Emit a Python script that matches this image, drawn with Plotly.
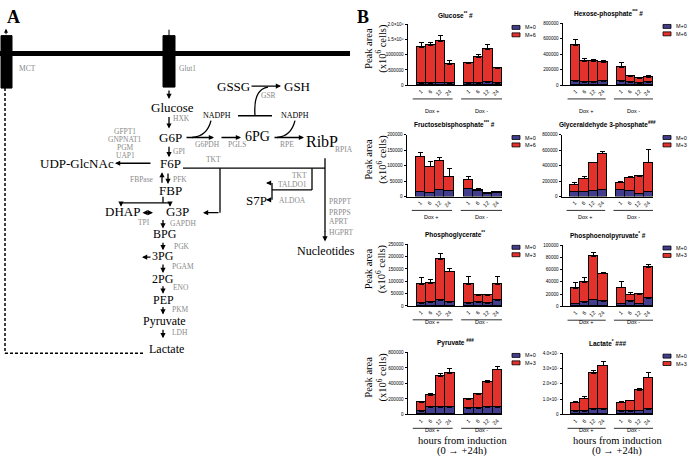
import plotly.graph_objects as go

W, H = 692, 461

# ---------------- data ----------------
hours = ["1", "6", "12", "24"]
groups = ["Dox +", "Dox -"]

glucose_m0 = [60e3, 55e3, 70e3, 50e3, 50e3, 55e3, 85e3, 45e3]
glucose_lab = [1179e3, 1245e3, 1365e3, 624e3, 667e3, 858e3, 1078e3, 488e3]
glucose_e0 = [10e3, 8e3, 12e3, 8e3, 8e3, 8e3, 15e3, 6e3]
glucose_el = [174e3, 109e3, 217e3, 130e3, 43e3, 87e3, 185e3, 22e3]

hexose_m0 = [51e3, 38e3, 30e3, 43e3, 51e3, 30e3, 26e3, 40e3]
hexose_lab = [458e3, 270e3, 278e3, 252e3, 180e3, 77e3, 55e3, 63e3]
hexose_e0 = [8e3, 5e3, 4e3, 10e3, 6e3, 4e3, 3e3, 5e3]
hexose_el = [77e3, 34e3, 30e3, 30e3, 64e3, 17e3, 9e3, 21e3]

fbp_m0 = [17e3, 13e3, 24e3, 18e3, 25e3, 20e3, 11e3, 14e3]
fbp_lab = [113e3, 85e3, 93e3, 48e3, 30e3, 4e3, 2e3, 1e3]
fbp_e0 = [3e3, 2e3, 3e3, 3e3, 8e3, 2e3, 1e3, 1e3]
fbp_el = [12e3, 14e3, 8e3, 23e3, 11e3, 2e3, 1e3, 1e3]

g3p_m0 = [70e3, 70e3, 80e3, 90e3, 85e3, 75e3, 40e3, 65e3]
g3p_lab = [85e3, 165e3, 355e3, 465e3, 95e3, 165e3, 225e3, 370e3]
g3p_e0 = [8e3, 6e3, 5e3, 6e3, 10e3, 6e3, 20e3, 30e3]
g3p_el = [20e3, 30e3, 10e3, 25e3, 15e3, 20e3, 5e3, 175e3]

pg3_m0 = [10e3, 13e3, 22e3, 13e3, 10e3, 14e3, 10e3, 22e3]
pg3_lab = [78e3, 77e3, 168e3, 125e3, 76e3, 30e3, 33e3, 64e3]
pg3_e0 = [3e3, 3e3, 3e3, 2e3, 3e3, 4e3, 2e3, 3e3]
pg3_el = [29e3, 18e3, 22e3, 12e3, 35e3, 3e3, 3e3, 33e3]

pep_m0 = [4e3, 7e3, 11e3, 8e3, 4e3, 8e3, 4e3, 13e3]
pep_lab = [25.6e3, 32e3, 71e3, 45e3, 26e3, 11e3, 16e3, 51e3]
pep_e0 = [1e3, 1e3, 1e3, 3e3, 1e3, 1e3, 1e3, 1e3]
pep_el = [9.7e3, 8.6e3, 6e3, 3e3, 11e3, 4e3, 1e3, 5e3]

pyr_m0 = [43e3, 94e3, 94e3, 89e3, 72e3, 77e3, 94e3, 94e3]
pyr_lab = [110e3, 157e3, 400e3, 439e3, 124e3, 178e3, 323e3, 480e3]
pyr_e0 = [5e3, 50e3, 8e3, 8e3, 5e3, 5e3, 8e3, 8e3]
pyr_el = [5e3, 25e3, 34e3, 60e3, 12e3, 5e3, 21e3, 42e3]

lac_m0 = [2.1e6, 2.0e6, 3.4e6, 3.4e6, 2.0e6, 2.2e6, 2.4e6, 3.2e6]
lac_lab = [5.6e6, 8.3e6, 23.3e6, 28.4e6, 5.5e6, 6.6e6, 13.5e6, 20.7e6]
lac_e0 = [0.3e6, 0.2e6, 0.5e6, 0.4e6, 0.2e6, 0.2e6, 0.3e6, 0.4e6]
lac_el = [1.0e6, 1.1e6, 2.0e6, 2.6e6, 0.8e6, 0.6e6, 0.8e6, 3.6e6]

titles = ["Glucose<sup>**</sup> #", "Hexose-phosphate<sup>***</sup> #",
          "Fructosebisphosphate<sup>***</sup> #", "Glyceraldehyde 3-phosphate<sup>###</sup>",
          "Phosphoglycerate<sup>**</sup>", "Phosphoenolpyruvate<sup>*</sup> #",
          "Pyruvate <sup>###</sup>", "Lactate<sup>*</sup> ###"]
label_names = ["M+6", "M+6", "M+6", "M+3", "M+3", "M+3", "M+3", "M+3"]

ytick_vals = [
    [0, 500000, 1000000, 1500000, 2000000],
    [0, 200000, 400000, 600000, 800000],
    [0, 50000, 100000, 150000, 200000],
    [0, 200000, 400000, 600000, 800000],
    [0, 50000, 100000, 150000, 200000, 250000],
    [0, 20000, 40000, 60000, 80000, 100000],
    [0, 200000, 400000, 600000, 800000],
    [0, 1e7, 2e7, 3e7, 4e7],
]
ytick_text = [
    ["0", "500000", "1000000", "1.5×10⁶", "2.0×10⁶"],
    ["0", "200000", "400000", "600000", "800000"],
    ["0", "50000", "100000", "150000", "200000"],
    ["0", "200000", "400000", "600000", "800000"],
    ["0", "50000", "100000", "150000", "200000", "250000"],
    ["0", "20000", "40000", "60000", "80000", "100000"],
    ["0", "200000", "400000", "600000", "800000"],
    ["0", "1.0×10⁷", "2.0×10⁷", "3.0×10⁷", "4.0×10⁷"],
]

series = [
    (glucose_m0, glucose_lab, glucose_e0, glucose_el),
    (hexose_m0, hexose_lab, hexose_e0, hexose_el),
    (fbp_m0, fbp_lab, fbp_e0, fbp_el),
    (g3p_m0, g3p_lab, g3p_e0, g3p_el),
    (pg3_m0, pg3_lab, pg3_e0, pg3_el),
    (pep_m0, pep_lab, pep_e0, pep_el),
    (pyr_m0, pyr_lab, pyr_e0, pyr_el),
    (lac_m0, lac_lab, lac_e0, lac_el),
]

# ---------------- layout helpers ----------------
def X(px):
    return px / W

def Y(py):
    return 1 - py / H

SERIF = "Liberation Serif, Times New Roman, serif"
SANS = "Liberation Sans, Arial, sans-serif"
GRAY = "#8a8a8a"
C0 = "#423d8c"
C1 = "#e3322b"

shapes = []
anns = []

def line(x0, y0, x1, y1, w=1.3, dash="solid", color="black"):
    shapes.append(dict(type="line", xref="paper", yref="paper", x0=X(x0), y0=Y(y0),
                       x1=X(x1), y1=Y(y1), line=dict(color=color, width=w, dash=dash)))

def arrow(x0, y0, x1, y1, both=False, w=1.3):
    anns.append(dict(x=X(x1), y=Y(y1), ax=x0 - x1, ay=y0 - y1, xref="paper", yref="paper",
                     axref="pixel", ayref="pixel", text="", showarrow=True, arrowhead=2,
                     arrowsize=0.8, arrowwidth=w, arrowcolor="black", standoff=0,
                     startstandoff=0, startarrowhead=2, startarrowsize=0.8,
                     arrowside="end+start" if both else "end"))

def txt(x, y, s, size=12, color="black", anchor="center", font=SERIF, angle=0):
    anns.append(dict(x=X(x), y=Y(y), text=s, showarrow=False, xref="paper", yref="paper",
                     xanchor=anchor, yanchor="middle", textangle=angle,
                     font=dict(family=font, size=size, color=color)))

def path(d):
    shapes.append(dict(type="path", xref="paper", yref="paper", path=d,
                       line=dict(color="black", width=1.3)))

def P(x, y):
    return f"{X(x):.5f},{Y(y):.5f}"

# ---------------- panel A: pathway diagram ----------------
txt(13, 15, "<b>A</b>", size=18)
line(0, 52, 350, 52, w=5)
shapes.append(dict(type="rect", xref="paper", yref="paper", x0=X(1), x1=X(12), y0=Y(34), y1=Y(87),
                   fillcolor="black", line=dict(color="black", width=1)))
shapes.append(dict(type="rect", xref="paper", yref="paper", x0=X(163), x1=X(175), y0=Y(34), y1=Y(86),
                   fillcolor="black", line=dict(color="black", width=1)))
arrow(6, 34, 6, 27, w=1)
line(169, 34, 169, 28, w=1)
txt(17, 67, "MCT", 7.5, GRAY, "left")
txt(177, 67, "Glut1", 7.5, GRAY, "left")
line(5, 87, 5, 355, w=1.5, dash="3px,2px")
line(5, 355, 143, 355, w=1.5, dash="3px,2px")

# metabolites
for s, x, y, sz in [("GSSG", 233, 85, 13), ("GSH", 297, 85, 13), ("NADPH", 217, 115, 8),
                    ("NADPH", 295, 115, 8), ("Glucose", 172, 107, 13), ("G6P", 170, 137, 13),
                    ("6PG", 257, 136, 14), ("RibP", 322, 141, 16), ("UDP-GlcNAc", 77, 163, 13),
                    ("F6P", 170, 163, 13), ("FBP", 170, 191, 13), ("DHAP", 122, 212, 13),
                    ("G3P", 177, 212, 13), ("S7P", 256, 201, 13), ("BPG", 165, 235, 12),
                    ("3PG", 163, 257, 12), ("2PG", 163, 280, 12), ("PEP", 163, 301, 12),
                    ("Pyruvate", 164, 322, 12), ("Lactate", 166, 351, 12),
                    ("Nucleotides", 326, 252, 12)]:
    txt(x, y, s, sz)

# enzymes
for s, x, y, a in [("GSR", 268, 95, "center"), ("HXK", 171, 118, "left"),
                   ("G6PDH", 207, 144, "center"), ("PGLS", 237, 144, "center"),
                   ("RPE", 287, 144, "center"), ("RPIA", 333, 149, "left"),
                   ("GFPT1", 125, 131, "center"), ("GNPNAT1", 125, 139, "center"),
                   ("PGM", 125, 147, "center"), ("UAP1", 125, 155, "center"),
                   ("GPI", 171, 151, "left"), ("TKT", 213, 159, "center"),
                   ("FBPase", 156, 179, "right"), ("PFK", 171, 179, "left"),
                   ("TKT", 309, 175, "right"), ("TALDO1", 292, 185, "center"),
                   ("ALDOA", 292, 201, "center"), ("TPI", 144, 223, "center"),
                   ("GAPDH", 168, 223.5, "left"), ("PRPPT", 327, 202, "left"),
                   ("PRPPS", 327, 213, "left"), ("APRT", 327, 222, "left"),
                   ("HGPRT", 327, 233, "left"), ("PGK", 172, 247, "left"),
                   ("PGAM", 170, 267, "left"), ("ENO", 171, 289, "left"),
                   ("PKM", 170, 311, "left"), ("LDH", 170, 334, "left")]:
    txt(x, y, s, 7.5, GRAY, a)

arrow(169, 88, 169, 98)
arrow(169, 115, 169, 128)
arrow(169, 145, 169, 157)
arrow(250, 85, 281, 85)
arrow(185, 137, 214, 137)
arrow(220, 137, 241, 137)
arrow(273, 137, 304, 137)
line(238, 115, 272, 115)
path(f"M {P(211,120)} Q {P(207,136)} {P(192,137)}")
path(f"M {P(295,120)} Q {P(291,136)} {P(277,137)}")
path(f"M {P(255,115)} Q {P(253,88)} {P(268,86)}")
arrow(152, 163, 115, 163)
line(183, 168, 325, 168)
line(325, 158, 325, 232)
arrow(325, 230, 325, 242)
line(220, 168, 220, 213)
arrow(220, 213, 203, 213)
line(312, 168, 312, 190)
line(312, 190, 272, 190)
line(272, 183, 272, 200)
arrow(272, 183, 266, 183)
arrow(272, 200, 266, 200)
arrow(162, 184, 162, 172)
arrow(168, 172, 168, 184)
line(163, 197, 163, 203)
line(121, 203, 170, 203)
arrow(121, 203, 121, 207)
arrow(170, 203, 170, 207)
arrow(141, 213, 153, 213, both=True)
arrow(163, 219, 163, 229)
arrow(163, 242, 163, 251)
arrow(152, 258, 142, 258)
arrow(163, 264, 163, 274)
arrow(163, 286, 163, 295)
arrow(163, 307, 163, 316)
arrow(163, 330, 163, 340)

# ---------------- panel B: bar charts ----------------
txt(363, 15, "<b>B</b>", size=18)

# geometry (pixel): x_left, x_right, y_top, y_base
geom = [(408, 502, 22.7, 84), (563, 653, 21.7, 84),
        (407, 502, 134, 196.7), (562, 653, 134, 196.7),
        (408, 502, 245, 307.3), (563, 653, 245.7, 307.7),
        (408, 502, 354.3, 417), (563, 653, 355, 417)]

xpos = [g * 5 + i for g in range(len(groups)) for i in range(len(hours))]
xticktext = hours * len(groups)

fig = go.Figure()
layout = {}
for k, ((m0, lab, e0, el), (xl, xr, yt, yb)) in enumerate(zip(series, geom), start=1):
    xa, ya = f"x{k}", f"y{k}"
    fig.add_trace(go.Bar(x=xpos, y=m0, name="M+0", xaxis=xa, yaxis=ya, showlegend=False,
                         marker=dict(color=C0, line=dict(color="black", width=1)),
                         error_y=dict(type="data", array=e0, arrayminus=[0] * len(e0),
                                      symmetric=False, color="black", thickness=1, width=2.5)))
    fig.add_trace(go.Bar(x=xpos, y=lab, name=label_names[k - 1], xaxis=xa, yaxis=ya,
                         showlegend=False,
                         marker=dict(color=C1, line=dict(color="black", width=1)),
                         error_y=dict(type="data", array=el, arrayminus=[0] * len(el),
                                      symmetric=False, color="black", thickness=1, width=2.5)))
    sfx = "" if k == 1 else str(k)
    layout["xaxis" + sfx] = dict(domain=[X(xl), X(xr)], anchor=ya, range=[-1.4, 8.5],
                                 tickvals=xpos, ticktext=xticktext, tickangle=-45,
                                 tickfont=dict(family=SANS, size=5.5, color="black"),
                                 showline=True, linecolor="black", linewidth=1, ticks="",
                                 showgrid=False, zeroline=False, fixedrange=True)
    tv = ytick_vals[k - 1]
    layout["yaxis" + sfx] = dict(domain=[Y(yb), Y(yt)], anchor=xa, range=[0, tv[-1]],
                                 tickvals=tv, ticktext=ytick_text[k - 1],
                                 tickfont=dict(family=SANS, size=4.6, color="black"),
                                 showline=True, linecolor="black", linewidth=1,
                                 ticks="outside", ticklen=2.5, tickwidth=1, tickcolor="black",
                                 showgrid=False, zeroline=False, fixedrange=True)
    # group underlines and labels
    for gi, (a, b) in enumerate([(-0.9, 3.3), (4.2, 8.5)]):
        shapes.append(dict(type="line", xref=xa, yref="paper", x0=a, x1=b,
                           y0=Y(yb + 14), y1=Y(yb + 14), line=dict(color="#333", width=1)))
        anns.append(dict(x=(a + b) / 2, y=Y(yb + 21), xref=xa, yref="paper", text=groups[gi],
                         showarrow=False, font=dict(family=SANS, size=5.5, color="black")))
    # title
    txt((xl + xr) / 2, yt - 10, "<b>" + titles[k - 1] + "</b>", 6.5, "black", "center", SANS)
    # legend
    lx = xr + 10
    for j, (nm, col) in enumerate([("M+0", C0), (label_names[k - 1], C1)]):
        ly = yt + 3 + j * 7.5
        shapes.append(dict(type="rect", xref="paper", yref="paper", x0=X(lx), x1=X(lx + 8),
                           y0=Y(ly + 2), y1=Y(ly - 2), fillcolor=col,
                           line=dict(color="black", width=0.8)))
        txt(lx + 11, ly, nm, 5.5, "black", "left", SANS)
    # y label for left column
    if k % 2 == 1:
        txt(376, (yt + yb) / 2 - 7, "Peak area<br>(x10<sup>6</sup> cells)", 10.5, "black",
            "center", SERIF, angle=-90)

for cx in (462, 617):
    txt(cx, 443, "hours from induction", 10.5)
    txt(cx, 454, "(0 → +24h)", 10.5)

fig.update_layout(width=W, height=H, autosize=False, margin=dict(l=0, r=0, t=0, b=0),
                  paper_bgcolor="white", plot_bgcolor="white", barmode="stack", bargap=0,
                  showlegend=False, shapes=shapes, annotations=anns, **layout)

fig.write_html("out.html", config={"displayModeBar": False},
               post_script="document.body.style.margin='0px';")
